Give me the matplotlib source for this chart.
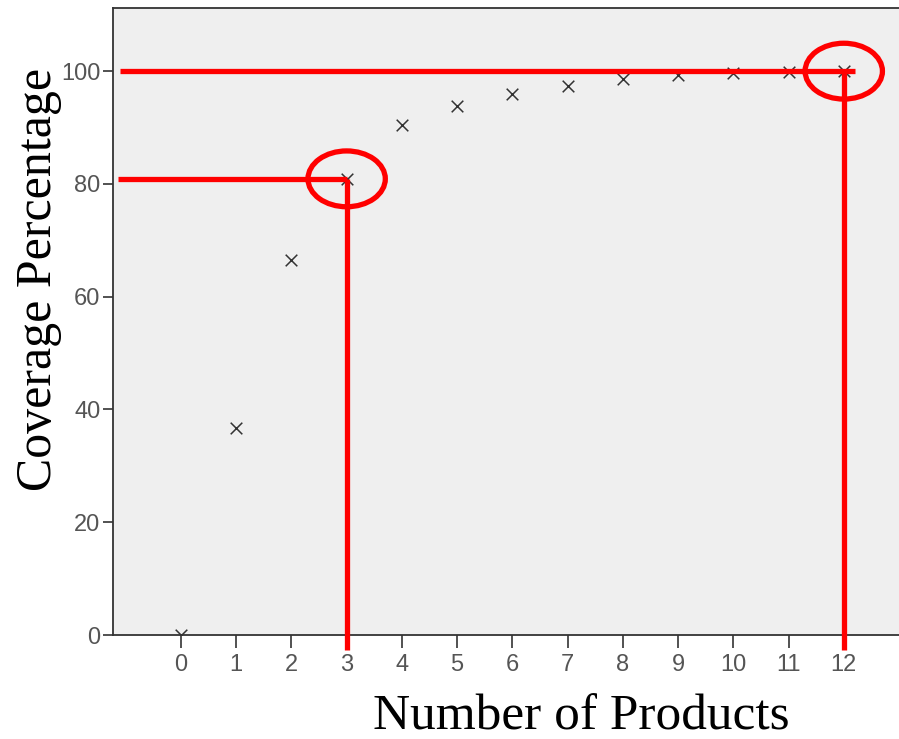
import numpy as np
import matplotlib.pyplot as plt
from matplotlib.patches import Ellipse

# number of products vs cumulative coverage percentage
products = [0, 1, 2, 3, 4, 5, 6, 7, 8, 9, 10, 11, 12]
coverage = [0, 36.7, 66.5, 80.9, 90.4, 93.8, 95.9, 97.3, 98.6, 99.3, 99.6, 99.8, 100]
yticks = [0, 20, 40, 60, 80, 100]
highlight = [3, 12]

fig = plt.figure(figsize=(8.99, 7.39), dpi=100)
ax = fig.add_axes([113/899, 104/739, 786/899, 627/739])
ax.set_facecolor('#efefef')

ax.scatter(products, coverage, marker='x', s=70, color='#333333', linewidths=1.1, zorder=3)

ax.set_xlim(-1.23, 13.0)
ax.set_ylim(0, 111.2)
ax.set_xticks(products)
ax.set_yticks(yticks)

tick_font = ['Liberation Sans Narrow', 'Liberation Sans', 'DejaVu Sans']
for lab in ax.get_xticklabels() + ax.get_yticklabels():
    lab.set_family(tick_font)
ax.tick_params(axis='both', colors='#333333', labelcolor='#555555', labelsize=17,
               direction='out', width=1.2)
ax.tick_params(axis='x', length=9, pad=5)
ax.tick_params(axis='y', length=7, pad=2)

for side in ['left', 'top', 'bottom']:
    ax.spines[side].set_color('#333333')
    ax.spines[side].set_linewidth(1.3)
ax.spines['right'].set_visible(False)

serif = ['Liberation Serif', 'DejaVu Serif']
fig.text(39/899, 1 - 279/739, 'Coverage Percentage', rotation=90, ha='center', va='center',
         fontsize=36, family=serif)
fig.text(581/899, 1 - 717/739, 'Number of Products', ha='center', va='center',
         fontsize=37, family=serif)

# red guide lines and circles
red = '#ff0000'
lw = 3.8
for k in highlight:
    yv = coverage[products.index(k)]
    xstart = -1.14 if k == 3 else -1.1
    xend = k if k == 3 else k + 0.2
    ax.plot([xstart, xend], [yv, yv], color=red, lw=lw, clip_on=False, zorder=4,
            solid_capstyle='butt')
    ax.plot([k, k], [yv, -2.7], color=red, lw=lw, clip_on=False, zorder=4,
            solid_capstyle='butt')
    ax.add_patch(Ellipse((k, yv), 1.40, 9.9, fill=False, edgecolor=red, lw=lw,
                         clip_on=False, zorder=4))

plt.savefig('out.png', dpi=100)
